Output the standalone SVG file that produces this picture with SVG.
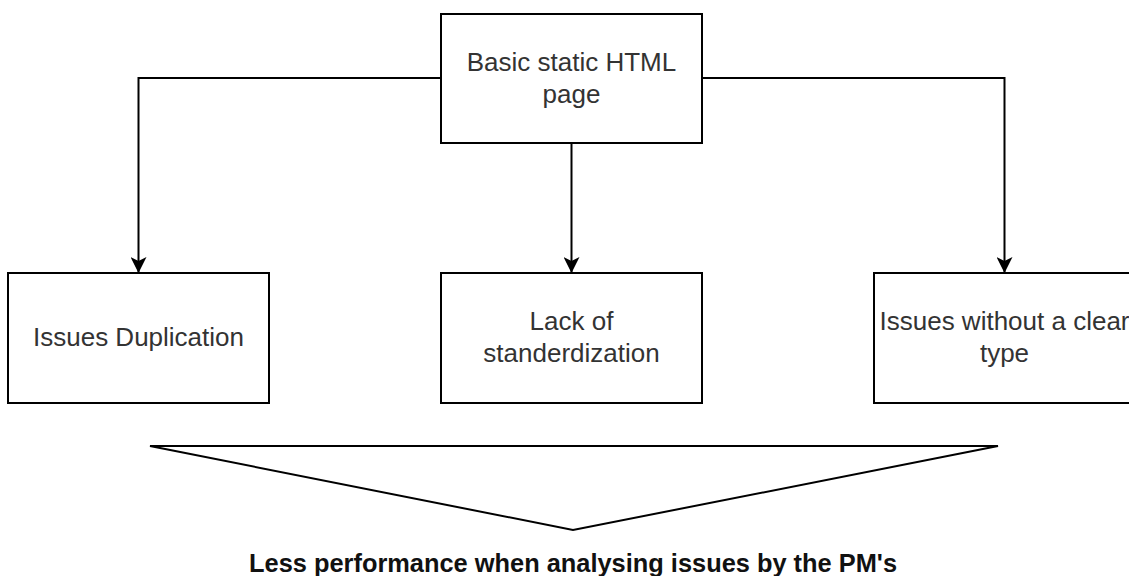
<svg xmlns="http://www.w3.org/2000/svg" width="1129" height="576" viewBox="0 0 1129 576">
<style>
.box{fill:#fff;stroke:#000;stroke-width:2}
.t{font-family:"Liberation Sans",Arial,sans-serif;font-size:26px;fill:#333;text-anchor:middle}
.c{fill:none;stroke:#000;stroke-width:2}
.b{font-family:"Liberation Sans",Arial,sans-serif;font-size:26px;font-weight:bold;fill:#111;text-anchor:middle}
</style>
<defs>
<marker id="ah" markerWidth="16" markerHeight="16" refX="15" refY="8" orient="auto" markerUnits="userSpaceOnUse" viewBox="0 0 16 16">
<path d="M0,0 L16,8 L0,16 L4,8 Z" fill="#000"/>
</marker>
</defs>
<rect width="1129" height="576" fill="#fff"/>
<g id="connectors">
<path class="c" d="M441,78 H138.5 V272" marker-end="url(#ah)"/>
<path class="c" d="M571.5,143 V272" marker-end="url(#ah)"/>
<path class="c" d="M702,78 H1004.5 V272" marker-end="url(#ah)"/>
</g>
<g id="top">
<rect class="box" x="441" y="14" width="261" height="129"/>
<text class="t" x="571.5" y="71">Basic static HTML</text>
<text class="t" x="571.5" y="103">page</text>
</g>
<g id="dup">
<rect class="box" x="8" y="273" width="261" height="130"/>
<text class="t" x="138.5" y="346">Issues Duplication</text>
</g>
<g id="std">
<rect class="box" x="441" y="273" width="261" height="130"/>
<text class="t" x="571.5" y="330">Lack of</text>
<text class="t" x="571.5" y="362">standerdization</text>
</g>
<g id="type">
<rect class="box" x="874" y="273" width="261" height="130"/>
<text class="t" x="1004.5" y="330">Issues without a clear</text>
<text class="t" x="1004.5" y="362">type</text>
</g>
<g id="result">
<polygon class="box" points="150,446 998,446 573,530"/>
<text class="b" x="573" y="572" textLength="648" lengthAdjust="spacingAndGlyphs">Less performance when analysing issues by the PM's</text>
</g>
</svg>
